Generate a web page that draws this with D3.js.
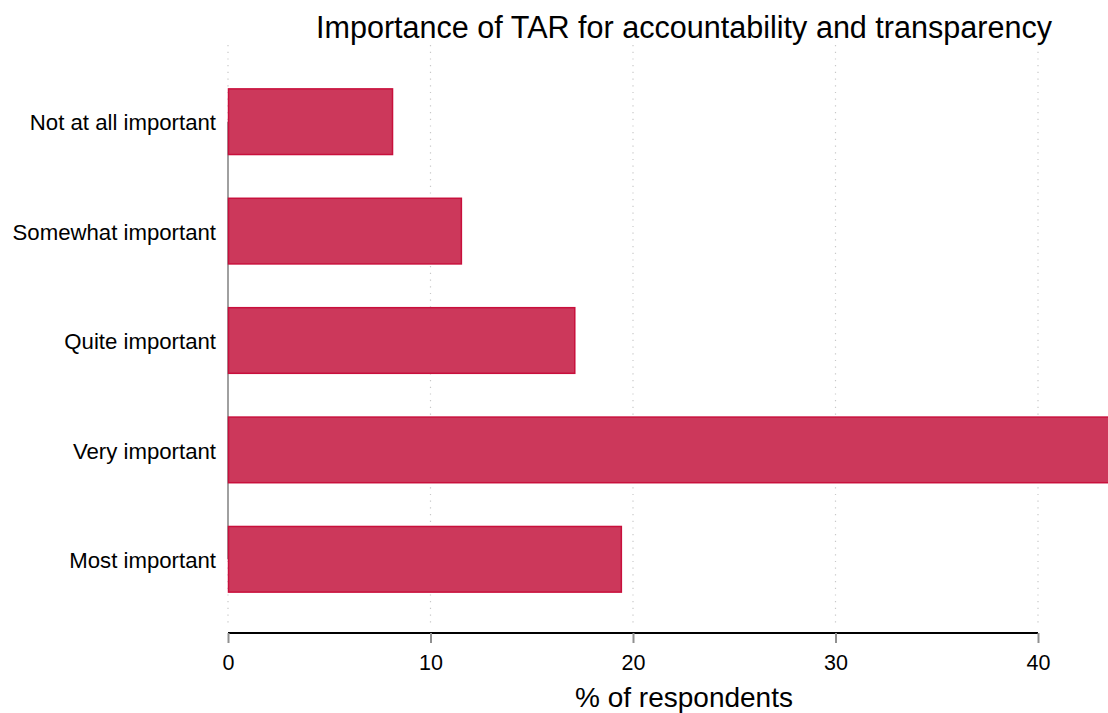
<!DOCTYPE html>
<html><head><meta charset="utf-8">
<script src="https://cdn.jsdelivr.net/npm/d3@7"></script>
<style>body{margin:0;background:#fff;overflow:hidden}svg{display:block}</style>
</head><body>
<svg id="c" width="1108" height="713"></svg>
<script>
const categories = ["Not at all important","Somewhat important","Quite important","Very important","Most important"];
const values = [8.1, 11.5, 17.1, 43.9, 19.4];
const xTicks = [0,10,20,30,40];
const titleText = "Importance of TAR for accountability and transparency";
const xTitle = "% of respondents";

const svg = d3.select("#c");
const x = d3.scaleLinear().domain([0,40]).range([228,1038]);
const y = d3.scaleBand().domain(categories).range([67,614]).paddingInner(0.4).paddingOuter(0.2);

// gridlines
svg.append("g").selectAll("line").data(xTicks).join("line")
  .attr("x1", d=>x(d)).attr("x2", d=>x(d)).attr("y1",45).attr("y2",628)
  .attr("stroke","#c8c8c8").attr("stroke-width",1.2).attr("stroke-dasharray","1.2,5.5");

// y axis line
svg.append("line").attr("x1",228).attr("x2",228)
  .attr("y1", y(categories[0])+y.bandwidth()/2).attr("y2", y(categories[categories.length-1])+y.bandwidth()/2)
  .attr("stroke","#a0a0a0").attr("stroke-width",2);

// bars
svg.append("g").selectAll("rect").data(values).join("rect")
  .attr("x", x(0)+0.5).attr("y",(d,i)=>y(categories[i]))
  .attr("width", d=>x(d)-x(0)).attr("height", y.bandwidth())
  .attr("fill","#cc385b").attr("stroke","#c8103c").attr("stroke-width",1.5);

// y labels
svg.append("g").selectAll("text").data(categories).join("text")
  .attr("x",216).attr("y",d=>y(d)+y.bandwidth()/2+1).attr("dy","0.35em")
  .attr("text-anchor","end").attr("font-family","Liberation Sans, Arial, sans-serif")
  .attr("font-size",22.2).attr("fill","#000").text(d=>d);

// x axis
const xa = svg.append("g").attr("transform","translate(0,633)")
  .call(d3.axisBottom(x).tickValues(xTicks).tickSize(10).tickPadding(12));
xa.select(".domain").attr("stroke","#000").attr("stroke-width",2).attr("d","M228,0H1038");
xa.selectAll(".tick line").attr("stroke","#909090").attr("stroke-width",2);
xa.selectAll(".tick text").attr("font-family","Liberation Sans, Arial, sans-serif").attr("font-size",21.5).attr("fill","#000");

svg.append("text").attr("x",684).attr("y",707).attr("text-anchor","middle")
  .attr("font-family","Liberation Sans, Arial, sans-serif").attr("font-size",28).attr("fill","#000").text(xTitle);

svg.append("text").attr("x",316).attr("y",38)
  .attr("font-family","Liberation Sans Narrow, Arial Narrow, Liberation Sans, sans-serif").attr("font-size",31)
  .attr("textLength",736).attr("lengthAdjust","spacingAndGlyphs").attr("fill","#000").text(titleText);
</script>
</body></html>
